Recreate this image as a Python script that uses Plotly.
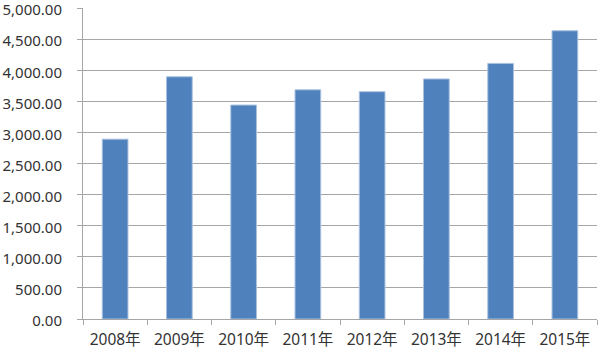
import plotly.graph_objects as go

categories = ["2008年", "2009年", "2010年", "2011年", "2012年", "2013年", "2014年", "2015年"]
values = [2892, 3895, 3440, 3685, 3655, 3860, 4110, 4635]
y_ticks = [0, 500, 1000, 1500, 2000, 2500, 3000, 3500, 4000, 4500, 5000]

font_family = "'Noto Sans', 'Noto Sans CJK SC', sans-serif"
axis_gray = "#a6a6a6"

fig = go.Figure(
    go.Bar(
        x=categories,
        y=values,
        marker=dict(color="#4f81bd", line=dict(color="#a9c1e0", width=1)),
    )
)

fig.update_layout(
    width=600,
    height=350,
    margin=dict(l=83, r=3, t=8, b=31, autoexpand=False),
    paper_bgcolor="white",
    plot_bgcolor="white",
    bargap=0.6,
    showlegend=False,
    font=dict(family=font_family, size=15.5, color="#333333"),
)

fig.update_xaxes(
    type="category",
    showgrid=False,
    showline=True,
    linecolor=axis_gray,
    linewidth=1,
    ticks="outside",
    tickson="boundaries",
    ticklen=5,
    tickcolor=axis_gray,
    ticklabelstandoff=6,
    tickfont=dict(size=15.5),
    automargin=False,
)

fig.update_yaxes(
    range=[0, 5001],
    tickvals=y_ticks,
    tickformat=",.2f",
    showgrid=True,
    gridcolor=axis_gray,
    gridwidth=1,
    showline=True,
    linecolor=axis_gray,
    linewidth=1,
    ticks="outside",
    ticklen=5,
    tickcolor=axis_gray,
    zeroline=False,
    ticklabelstandoff=12,
    ticklabelshift=2,
    ticklabeloverflow="allow",
    tickfont=dict(size=15),
    automargin=False,
)

fig.write_html("out.html")
